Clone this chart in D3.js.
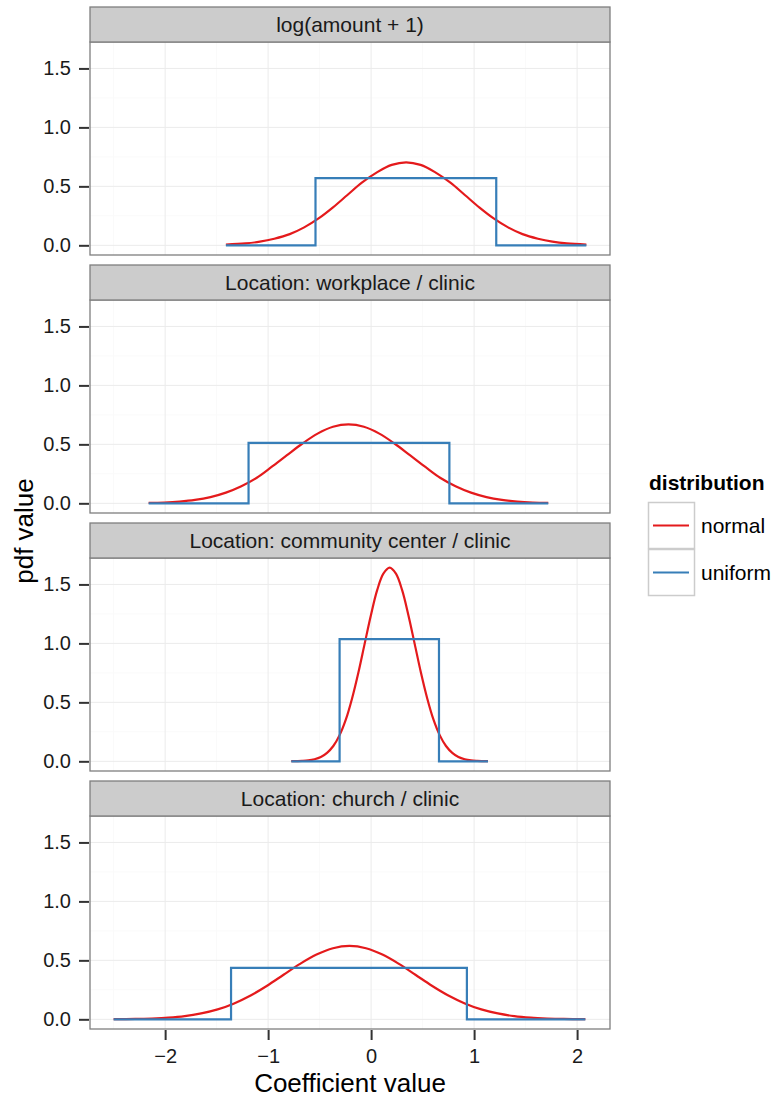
<!DOCTYPE html>
<html>
<head>
<meta charset="utf-8">
<script src="https://cdn.jsdelivr.net/npm/d3@7"></script>
<style>
  body { margin: 0; background: #fff; }
  text { font-family: "Liberation Sans", Arial, sans-serif; }
</style>
</head>
<body>
<div class="chart"></div>
<script>
var w = 773,
    h = 1100;

// facet strips, top to bottom
var facets = ["log(amount + 1)", "Location: workplace / clinic",
              "Location: community center / clinic", "Location: church / clinic"];

var seriesNames = ["normal", "uniform"];
var color = ["#E41A1C", "#377EB8"];

var xTicks = [-2, -1, 0, 1, 2];
var xMinor = [-2.5, -1.5, -0.5, 0.5, 1.5];
var yTicks = [0, 0.5, 1.0, 1.5];
var yMinor = [0.25, 0.75, 1.25];

// normal pdf curves, [coefficient, pdf]
var normalLog = [[-1.41,0.006],[-1.22,0.016],[-1.08,0.031],[-0.94,0.056],[-0.79,0.095],[-0.65,0.152],
  [-0.51,0.228],[-0.37,0.322],[-0.23,0.427],[-0.09,0.531],[0.06,0.621],[0.20,0.682],[0.34,0.704],
  [0.48,0.682],[0.62,0.621],[0.77,0.531],[0.91,0.427],[1.05,0.322],[1.19,0.228],[1.33,0.152],
  [1.47,0.095],[1.62,0.056],[1.76,0.031],[1.90,0.016],[2.09,0.006]];

var normalWork = [[-2.16,0.003],[-2.01,0.007],[-1.86,0.015],[-1.71,0.029],[-1.56,0.053],[-1.41,0.091],
  [-1.26,0.145],[-1.11,0.217],[-0.97,0.306],[-0.82,0.406],[-0.67,0.505],[-0.52,0.591],[-0.37,0.649],
  [-0.22,0.669],[-0.07,0.649],[0.08,0.591],[0.23,0.505],[0.38,0.406],[0.53,0.306],[0.67,0.217],
  [0.82,0.145],[0.97,0.091],[1.12,0.053],[1.27,0.029],[1.42,0.015],[1.57,0.007],[1.72,0.003]];

var normalCommunity = [[-0.775,0.001],[-0.67,0.004],[-0.61,0.008],[-0.549,0.018],[-0.488,0.037],
  [-0.428,0.072],[-0.367,0.130],[-0.306,0.222],[-0.245,0.355],[-0.185,0.533],[-0.124,0.751],
  [-0.063,0.996],[-0.002,1.239],[0.058,1.449],[0.119,1.591],[0.18,1.642],[0.241,1.591],[0.302,1.449],
  [0.362,1.239],[0.423,0.996],[0.484,0.751],[0.545,0.533],[0.605,0.355],[0.666,0.222],[0.727,0.130],
  [0.788,0.072],[0.848,0.037],[0.909,0.018],[0.970,0.008],[1.031,0.004],[1.135,0.001]];

var normalChurch = [[-2.50,0.001],[-2.29,0.003],[-2.13,0.007],[-1.97,0.014],[-1.81,0.027],[-1.65,0.050],
  [-1.49,0.084],[-1.33,0.135],[-1.17,0.202],[-1.01,0.285],[-0.85,0.378],[-0.69,0.470],[-0.53,0.549],
  [-0.37,0.603],[-0.21,0.622],[-0.05,0.603],[0.11,0.549],[0.27,0.470],[0.43,0.378],[0.59,0.285],
  [0.75,0.202],[0.91,0.135],[1.07,0.084],[1.23,0.050],[1.39,0.027],[1.55,0.014],[1.71,0.007],
  [1.87,0.003],[2.08,0.001]];

// uniform pdf step lines
var uniformLog = [[-1.41,0],[-0.54,0],[-0.54,0.570],[1.215,0.570],[1.215,0],[2.09,0]];
var uniformWork = [[-2.16,0],[-1.19,0],[-1.19,0.513],[0.76,0.513],[0.76,0],[1.72,0]];
var uniformCommunity = [[-0.775,0],[-0.306,0],[-0.306,1.036],[0.659,1.036],[0.659,0],[1.135,0]];
var uniformChurch = [[-2.50,0],[-1.36,0],[-1.36,0.436],[0.93,0.436],[0.93,0],[2.08,0]];

var normals = [normalLog, normalWork, normalCommunity, normalChurch];
var uniforms = [uniformLog, uniformWork, uniformCommunity, uniformChurch];

var svg = d3.select("body").select(".chart").append("svg")
  .attr("width", w)
  .attr("height", h);

var left = 90, right = 610,
    top0 = 7, step = 258, stripH = 35, plotH = 213;

var allPts = d3.merge(normals.concat(uniforms));
var xExt = d3.extent(allPts, function(d) { return d[0]; });
var xPad = (xExt[1] - xExt[0]) * 0.05;
var yMax = d3.max(allPts, function(d) { return d[1]; });
var yPad = yMax * 0.05;

var x = d3.scaleLinear()
  .domain([xExt[0] - xPad, xExt[1] + xPad])
  .range([left, right]);

var y = d3.scaleLinear()
  .domain([-yPad, yMax + yPad])
  .range([stripH + plotH, stripH]);

facets.forEach(function(name, i) {
  var g = svg.append("g").attr("transform", "translate(0," + (top0 + i * step) + ")");

  // panel background + grid
  g.append("rect")
    .attr("x", left).attr("y", stripH)
    .attr("width", right - left).attr("height", plotH)
    .style("fill", "white");

  g.selectAll(".xminor").data(xMinor).enter().append("line")
    .attr("x1", x).attr("x2", x)
    .attr("y1", stripH).attr("y2", stripH + plotH)
    .style("stroke", "#fafafa").style("stroke-width", 1);
  g.selectAll(".yminor").data(yMinor).enter().append("line")
    .attr("x1", left).attr("x2", right)
    .attr("y1", y).attr("y2", y)
    .style("stroke", "#fafafa").style("stroke-width", 1);
  g.selectAll(".xmajor").data(xTicks).enter().append("line")
    .attr("x1", x).attr("x2", x)
    .attr("y1", stripH).attr("y2", stripH + plotH)
    .style("stroke", "#ebebeb").style("stroke-width", 1);
  g.selectAll(".ymajor").data(yTicks).enter().append("line")
    .attr("x1", left).attr("x2", right)
    .attr("y1", y).attr("y2", y)
    .style("stroke", "#ebebeb").style("stroke-width", 1);

  var line = d3.line()
    .x(function(d) { return x(d[0]); })
    .y(function(d) { return y(d[1]); });

  g.append("path")
    .attr("d", line.curve(d3.curveCatmullRom)(normals[i]))
    .style("fill", "none")
    .style("stroke", color[0])
    .style("stroke-width", 2.2);

  g.append("path")
    .attr("d", line.curve(d3.curveLinear)(uniforms[i]))
    .style("fill", "none")
    .style("stroke", color[1])
    .style("stroke-width", 2.2);

  // panel border
  g.append("rect")
    .attr("x", left).attr("y", stripH)
    .attr("width", right - left).attr("height", plotH)
    .style("fill", "none").style("stroke", "#7f7f7f").style("stroke-width", 1.3);

  // strip
  g.append("rect")
    .attr("x", left).attr("y", 0)
    .attr("width", right - left).attr("height", stripH)
    .style("fill", "#cccccc").style("stroke", "#7f7f7f").style("stroke-width", 1.3);
  g.append("text")
    .attr("x", (left + right) / 2).attr("y", stripH / 2)
    .attr("dy", "0.35em")
    .attr("text-anchor", "middle")
    .style("font-size", "21px").style("fill", "#1a1a1a")
    .text(name);

  // y axis
  var yAxis = d3.axisLeft(y).tickValues(yTicks).tickFormat(d3.format(".1f"))
    .tickSize(10).tickPadding(8);
  var ya = g.append("g").attr("transform", "translate(" + (left - 1) + ",0)").call(yAxis);
  ya.select(".domain").remove();
  ya.selectAll(".tick line").style("stroke", "#333").style("stroke-width", 2);
  ya.selectAll(".tick text").style("font-size", "20px").style("fill", "#1a1a1a")
    .style("font-family", "Liberation Sans, Arial, sans-serif");

  if (i === facets.length - 1) {
    var xAxis = d3.axisBottom(x).tickValues(xTicks)
      .tickFormat(function(d) { return d < 0 ? "\u2212" + Math.abs(d) : d; })
      .tickSize(10).tickPadding(9);
    var xa = g.append("g").attr("transform", "translate(0," + (stripH + plotH + 1) + ")").call(xAxis);
    xa.select(".domain").remove();
    xa.selectAll(".tick line").style("stroke", "#333").style("stroke-width", 2);
    xa.selectAll(".tick text").style("font-size", "20px").style("fill", "#1a1a1a")
      .style("font-family", "Liberation Sans, Arial, sans-serif");
  }
});

// axis titles
svg.append("text")
  .attr("x", (left + right) / 2).attr("y", 1092)
  .attr("text-anchor", "middle")
  .style("font-size", "26px")
  .text("Coefficient value");

svg.append("text")
  .attr("transform", "translate(33,531) rotate(-90)")
  .attr("text-anchor", "middle")
  .style("font-size", "26px")
  .text("pdf value");

// legend
var lg = svg.append("g").attr("transform", "translate(648,0)");
lg.append("text")
  .attr("x", 1).attr("y", 490)
  .style("font-size", "21px").style("font-weight", "bold")
  .text("distribution");

var keys = lg.selectAll(".key").data(seriesNames).enter().append("g")
  .attr("transform", function(d, i) { return "translate(0," + (502 + i * 47) + ")"; });
keys.append("rect")
  .attr("x", 0.5).attr("y", 0.5).attr("width", 46).attr("height", 46)
  .style("fill", "white").style("stroke", "#cccccc").style("stroke-width", 1.5);
keys.append("line")
  .attr("x1", 5).attr("x2", 41).attr("y1", 23.5).attr("y2", 23.5)
  .style("stroke", function(d, i) { return color[i]; })
  .style("stroke-width", 2.2);
keys.append("text")
  .attr("x", 53).attr("y", 23.5).attr("dy", "0.35em")
  .style("font-size", "21px")
  .text(function(d) { return d; });
</script>
</body>
</html>
